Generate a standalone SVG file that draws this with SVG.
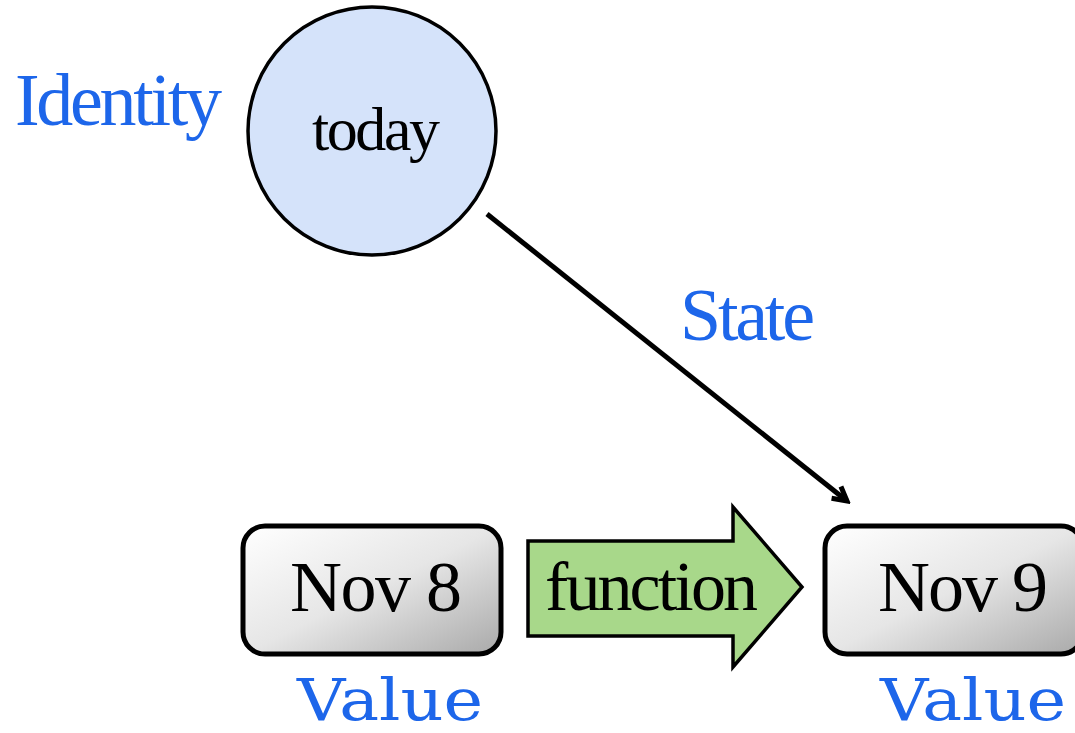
<svg xmlns="http://www.w3.org/2000/svg" width="1075" height="733" viewBox="0 0 1075 733">
<defs>
<linearGradient id="boxg" x1="0" y1="0" x2="1" y2="1">
<stop offset="0" stop-color="#ffffff"/>
<stop offset="0.5" stop-color="#e6e6e6"/>
<stop offset="1" stop-color="#a9a9a9"/>
</linearGradient>
<marker id="arr" markerWidth="20" markerHeight="20" viewBox="-12 -8 14 16" refX="0" refY="0" orient="auto" markerUnits="userSpaceOnUse">
<path d="M-11,-6 L0,0 L-11,6" fill="none" stroke="#000" stroke-width="4"/>
</marker>
<style>
.lbl{font-family:"Liberation Serif","Times New Roman",serif;fill:#1d66ea;}
.val{font-family:"DejaVu Serif",serif;fill:#1d66ea;}
.txt{font-family:"Liberation Serif","Times New Roman",serif;fill:#000;}
.box{fill:url(#boxg);stroke:#000;stroke-width:5;}
</style>
</defs>
<g id="connectors">
<line x1="487" y1="214" x2="847" y2="501" stroke="#000" stroke-width="5" marker-end="url(#arr)"/>
</g>
<g id="identity-label"><text class="lbl" x="15" y="125" font-size="74" textLength="207" lengthAdjust="spacing">Identity</text></g>
<g id="today">
<circle cx="372" cy="131" r="124" fill="#d5e3fa" stroke="#000" stroke-width="3.5"/>
<text class="txt" x="312" y="150" font-size="62" textLength="128" lengthAdjust="spacing">today</text>
</g>
<g id="state-label"><text class="lbl" x="680" y="340" font-size="74" textLength="135" lengthAdjust="spacing">State</text></g>
<g id="nov8">
<rect class="box" x="243" y="526" width="258" height="128" rx="22"/>
<text class="txt" x="290" y="611" font-size="72" textLength="172" lengthAdjust="spacing">Nov 8</text>
<text class="val" x="297" y="720" font-size="57" textLength="186" lengthAdjust="spacingAndGlyphs">Value</text>
</g>
<g id="function">
<polygon points="528,541 733,541 733,507 802,587 733,667 733,636 528,636" fill="#a8d88a" stroke="#000" stroke-width="3.5"/>
<text class="txt" x="545" y="610" font-size="70" textLength="213" lengthAdjust="spacing">function</text>
</g>
<g id="nov9">
<rect class="box" x="825" y="526" width="258" height="128" rx="22"/>
<text class="txt" x="878" y="611" font-size="72" textLength="170" lengthAdjust="spacing">Nov 9</text>
<text class="val" x="880" y="720" font-size="57" textLength="186" lengthAdjust="spacingAndGlyphs">Value</text>
</g>
</svg>
